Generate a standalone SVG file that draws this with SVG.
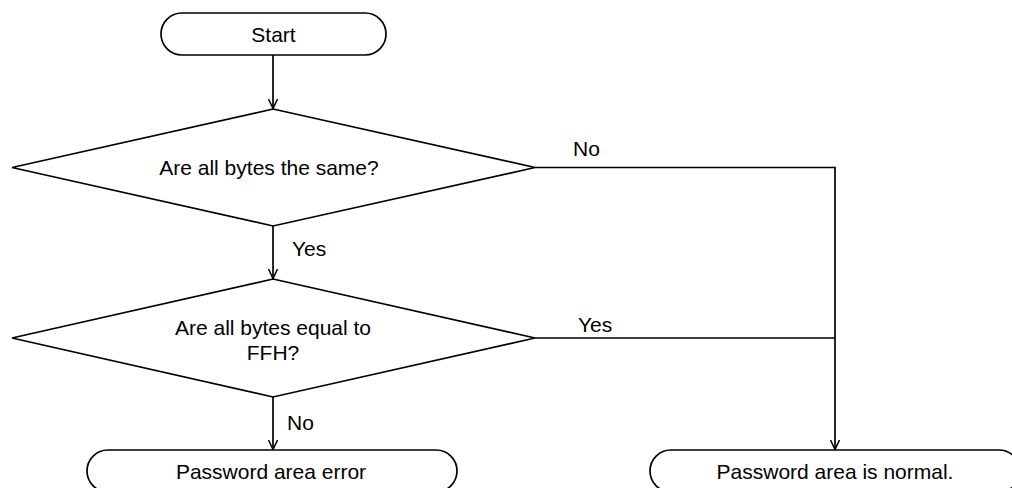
<svg xmlns="http://www.w3.org/2000/svg" width="1012" height="488" viewBox="0 0 1012 488">
<defs>
<style>
.shape{fill:#fff;stroke:#000;stroke-width:1.7}
.conn{fill:none;stroke:#000;stroke-width:1.7}
text{font-family:"Liberation Sans",Arial,sans-serif;font-size:21px;fill:#000}
.c{text-anchor:middle}
</style>
<marker id="arr" markerUnits="userSpaceOnUse" markerWidth="12" markerHeight="12" refX="10" refY="5" orient="auto">
<path d="M0.5,0.5 L10,5 L0.5,9.5" fill="none" stroke="#000" stroke-width="1.5"/>
</marker>
</defs>
<rect width="1012" height="488" fill="#fff"/>
<g id="connectors">
<path class="conn" d="M273,55 L273,108.5" marker-end="url(#arr)"/>
<path class="conn" d="M273,226 L273,278.5" marker-end="url(#arr)"/>
<path class="conn" d="M273,397 L273,449.5" marker-end="url(#arr)"/>
<path class="conn" d="M535,167.5 L835,167.5 L835,449.5" marker-end="url(#arr)"/>
<path class="conn" d="M535,338 L835,338"/>
<text x="292" y="256">Yes</text>
<text x="287" y="430">No</text>
<text x="573" y="156">No</text>
<text x="578" y="331.5">Yes</text>
</g>
<g id="start">
<rect class="shape" x="161" y="13" width="225" height="42" rx="21" ry="21"/>
<text class="c" x="273.5" y="42">Start</text>
</g>
<g id="decision1">
<polygon class="shape" points="273,109 535,167.5 273,226 12,167.5"/>
<text class="c" x="269" y="175">Are all bytes the same?</text>
</g>
<g id="decision2">
<polygon class="shape" points="273,279 535,338 273,397 12,338"/>
<text class="c" x="273" y="334.5">Are all bytes equal to</text>
<text class="c" x="273" y="359.5">FFH?</text>
</g>
<g id="error">
<rect class="shape" x="87" y="450" width="370" height="42" rx="21" ry="21"/>
<text class="c" x="271" y="478.5">Password area error</text>
</g>
<g id="normal">
<rect class="shape" x="650" y="450" width="370" height="42" rx="21" ry="21"/>
<text class="c" x="835" y="478.5">Password area is normal.</text>
</g>
</svg>
